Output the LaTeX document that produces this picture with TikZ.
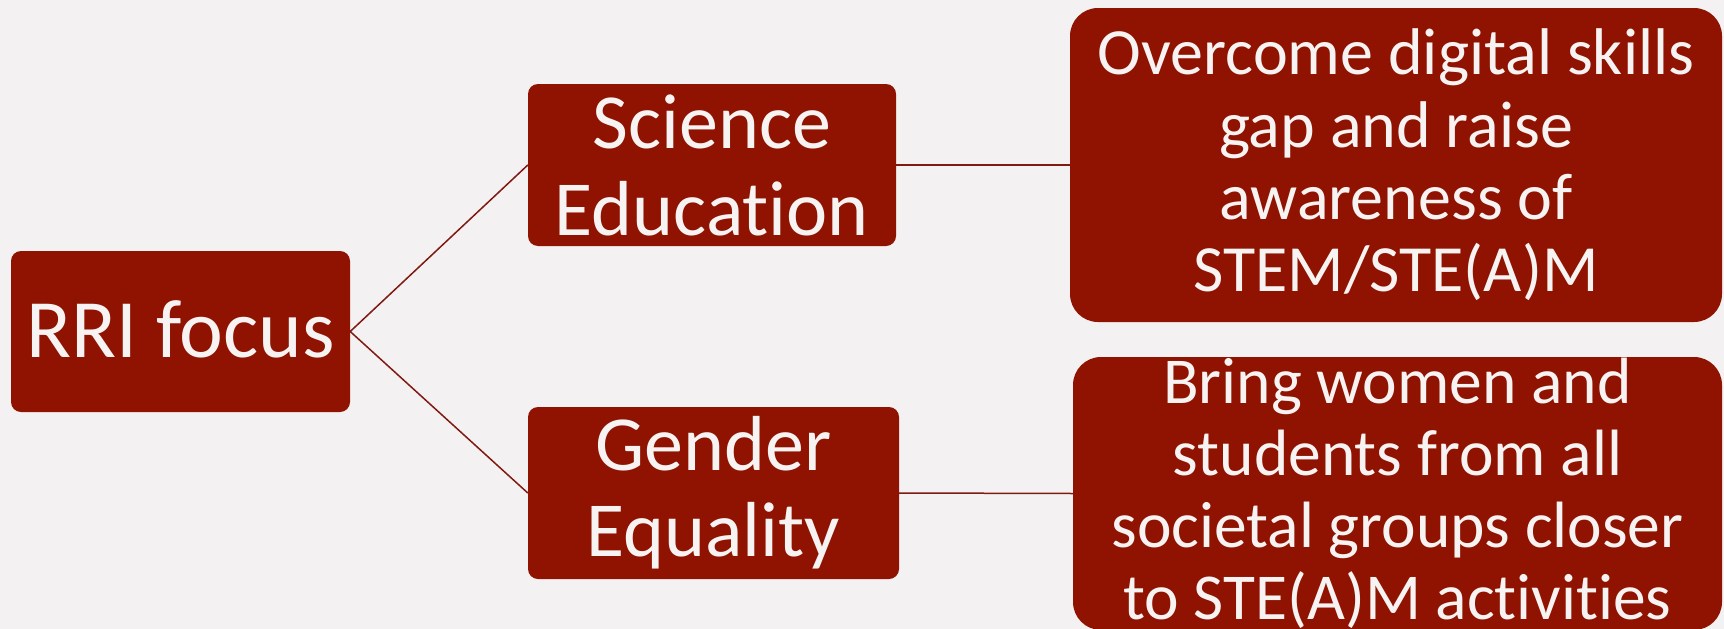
\documentclass[tikz,border=0pt]{standalone}
\usepackage{fontspec}
\setmainfont{Carlito}[Ligatures=NoCommon]
\definecolor{boxred}{HTML}{8F1300}
\definecolor{bgc}{HTML}{F3F1F2}
\definecolor{linered}{HTML}{7F1A12}
\definecolor{txt}{HTML}{F7F3F3}
\begin{document}
\begin{tikzpicture}[x=1pt,y=-1pt,
  box/.style={fill=boxred, rounded corners=10pt, inner sep=0pt, draw=none},
  bigbox/.style={box, rounded corners=28pt},
  lbl/.style={text=txt, align=center, inner sep=0pt},
  link/.style={draw=linered, line width=1.5pt}]
\fill[bgc] (0,0) rectangle (1724,629);
\useasboundingbox (0,0) rectangle (1724,629);
% boxes
\node[box, minimum width=339pt, minimum height=161pt] (rri) at (180.5,331.5) {};
\node[box, minimum width=368pt, minimum height=162pt] (sci) at (712,165) {};
\node[box, minimum width=371pt, minimum height=172pt] (gen) at (713.5,493) {};
\node[bigbox, minimum width=652pt, minimum height=314pt] (top) at (1396,165) {};
\node[bigbox, minimum width=649pt, minimum height=273pt] (bot) at (1397.5,493.5) {};
% texts
\node[lbl, anchor=base, yshift=-25.5pt, font=\fontsize{83}{96}\selectfont] (rrit) at (rri.center) {RRI focus};
\node[lbl, font=\fontsize{78}{87}\selectfont] (scit) at (sci.center) {Science\\Education};
\node[lbl, font=\fontsize{78}{86}\selectfont] (gent) at (gen.center) {Gender\\Equality};
\node[lbl, font=\fontsize{66}{72.3}\selectfont] (topt) at (top.center) {Overcome digital skills\\gap and raise\\awareness of\\STEM/STE(A)M};
\node[lbl, font=\fontsize{65.5}{72}\selectfont] (bott) at (bot.center) {Bring women and\\students from all\\societal groups closer\\to STE(A)M activities};
% connectors
\draw[link] (rri.east) -- (sci.west);
\draw[link] (rri.east) -- (gen.west);
\draw[link] (sci.east) -- (top.west);
\draw[link] (gen.east) -- (bot.west);
\end{tikzpicture}
\end{document}
